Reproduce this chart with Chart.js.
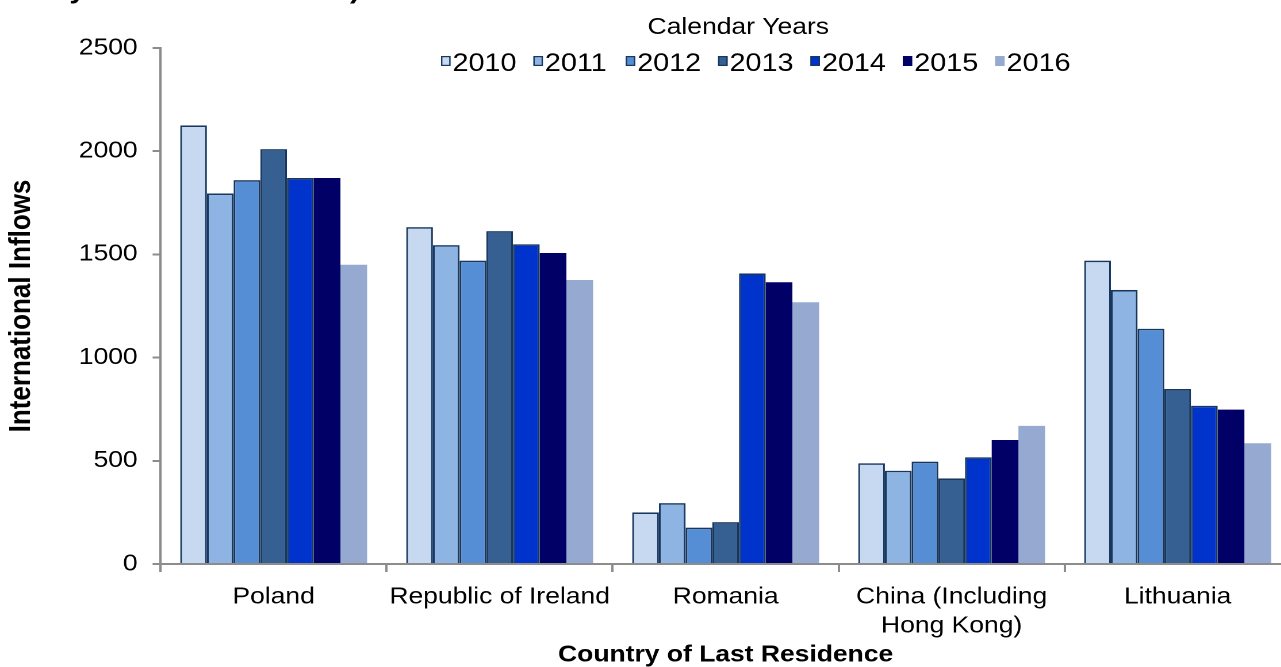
<!DOCTYPE html>
<html>
<head>
<meta charset="utf-8">
<script src="https://cdn.jsdelivr.net/npm/chart.js@4/dist/chart.umd.min.js"></script>
<style>
  html, body { margin: 0; padding: 0; background: #fff; overflow: hidden; }
  /* the reference is stretched sideways, so the canvas is too */
  #wrap { width: 1281px; height: 667px; overflow: hidden; }
  #chart { transform: scaleX(1.15); transform-origin: 0 0; }
</style>
</head>
<body>
<div id="wrap"><canvas id="chart" width="1130" height="667"></canvas></div>
<script>
// Data
const countries = ['Poland', 'Republic of Ireland', 'Romania', ['China (Including', 'Hong Kong)'], 'Lithuania'];
const years = ['2010', '2011', '2012', '2013', '2014', '2015', '2016'];
const v2010 = [2125, 1632, 250, 488, 1470];
const v2011 = [1795, 1545, 295, 452, 1328];
const v2012 = [1860, 1470, 176, 496, 1140];
const v2013 = [2010, 1613, 203, 415, 848];
const v2014 = [1870, 1549, 1408, 517, 767];
const v2015 = [1870, 1507, 1365, 601, 748];
const v2016 = [1450, 1376, 1268, 669, 585];
const yTicks = [0, 500, 1000, 1500, 2000, 2500];

const yearColors = ['#C6D9F1', '#8EB4E3', '#558ED5', '#376092', '#0033CC', '#000066', '#95A9D1'];
const outlined = [true, true, true, true, true, false, false];
const FONT = '"Liberation Sans", Arial, sans-serif';

const series = [v2010, v2011, v2012, v2013, v2014, v2015, v2016];

// Legend sits inside the plot area in the original, so it is drawn by hand
const yearLegend = {
    id: 'yearLegend',
    afterDraw(chart) {
        const ctx = chart.ctx;
        ctx.save();
        ctx.fillStyle = '#000';
        ctx.textBaseline = 'alphabetic';

        // heading cut off at the top edge, only the descenders show
        ctx.font = 'bold 26px ' + FONT;
        ctx.textAlign = 'right';
        ctx.fillText('(January to December 2016)', 313, -2);

        ctx.font = '23px ' + FONT;
        ctx.textAlign = 'center';
        ctx.fillText('Calendar Years', 642, 34);

        ctx.font = '25px ' + FONT;
        ctx.textAlign = 'left';
        let x = 383.5;
        chart.data.datasets.forEach(ds => {
            ctx.fillStyle = ds.backgroundColor;
            ctx.fillRect(x, 56, 8.3, 10);
            if (ds.borderWidth) {
                ctx.strokeStyle = ds.borderColor;
                ctx.lineWidth = 1.2;
                ctx.strokeRect(x + 0.6, 56.6, 7.1, 8.8);
            }
            ctx.fillStyle = '#000';
            ctx.fillText(ds.label, x + 10, 71);
            x += 80.3;
        });
        ctx.restore();
    }
};

new Chart(document.getElementById('chart'), {
    type: 'bar',
    data: {
        labels: countries,
        datasets: years.map((y, i) => ({
            label: y,
            data: series[i],
            backgroundColor: yearColors[i],
            borderColor: '#17375E',
            borderWidth: outlined[i] ? 1.6 : 0,
            categoryPercentage: 0.827,
            barPercentage: 1
        }))
    },
    options: {
        responsive: false,
        animation: false,
        devicePixelRatio: 2,
        layout: { padding: { top: 48, right: 7.7, bottom: 0, left: 0 } },
        plugins: {
            legend: { display: false },
            tooltip: { enabled: false }
        },
        scales: {
            x: {
                afterFit: scale => { scale.height = 103; },
                grid: { drawOnChartArea: false, drawTicks: true, tickLength: 8, color: '#8C8C8C', lineWidth: 2, offset: true },
                border: { color: '#8C8C8C', width: 2 },
                ticks: { color: '#000', font: { family: FONT, size: 23, lineHeight: 1.25 }, padding: 11, maxRotation: 0, autoSkip: false },
                title: {
                    display: true,
                    text: 'Country of Last Residence',
                    color: '#000',
                    font: { family: FONT, size: 23, weight: 'bold', lineHeight: 1 },
                    padding: { top: 0, bottom: 0.5 }
                }
            },
            y: {
                min: 0,
                max: 2500,
                afterFit: scale => { scale.width = 139.7; },
                afterBuildTicks: scale => { scale.ticks = yTicks.map(v => ({ value: v })); },
                grid: { drawOnChartArea: false, drawTicks: true, tickLength: 7, color: '#8C8C8C', lineWidth: 2 },
                border: { color: '#8C8C8C', width: 2 },
                ticks: { color: '#000', font: { family: FONT, size: 23 }, padding: 13, callback: v => String(v) },
                title: {
                    display: true,
                    text: 'International Inflows',
                    color: '#000',
                    font: { family: FONT, size: 26, weight: 'bold', lineHeight: 1 },
                    padding: { top: 6, bottom: 0 }
                }
            }
        }
    },
    plugins: [yearLegend]
});
</script>
</body>
</html>
